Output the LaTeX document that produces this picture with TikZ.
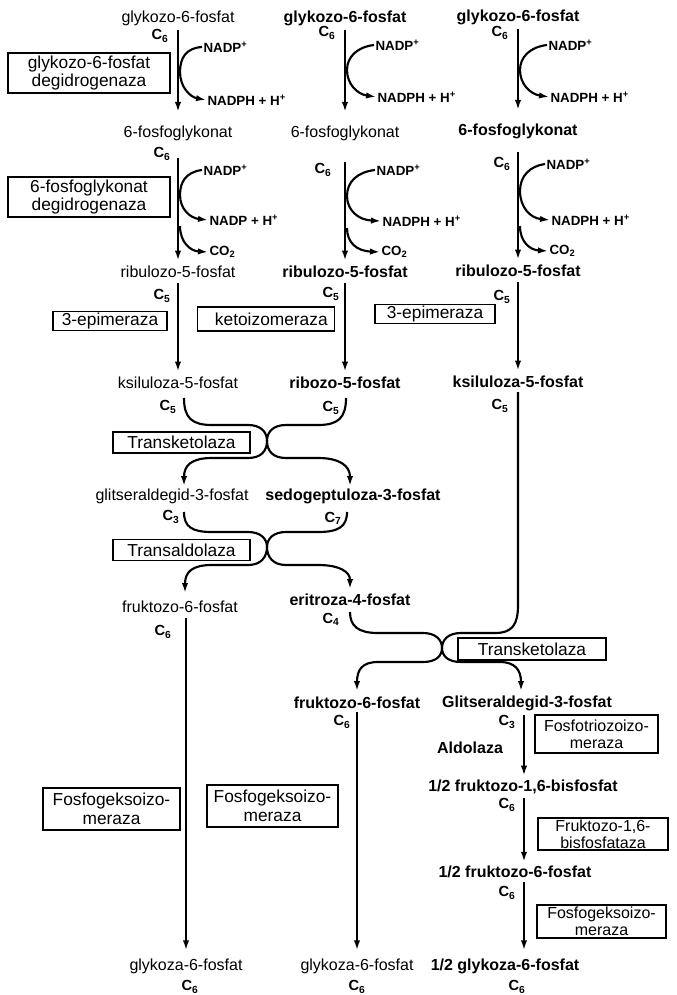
\documentclass[tikz,border=0pt]{standalone}
\usepackage{fontspec}
\setmainfont{Liberation Sans}
\usetikzlibrary{arrows.meta,calc}
\begin{document}
\begin{tikzpicture}[x=0.75pt,y=-0.75pt,
  met/.style={font=\fontsize{12}{14}\selectfont, inner sep=1pt},
  metb/.style={font=\bfseries\fontsize{12}{14}\selectfont, inner sep=1pt},
  enz/.style={draw, line width=0.9pt, font=\fontsize{13}{14}\selectfont, align=center, inner sep=0.5pt},
  enzs/.style={enz, font=\fontsize{12}{12.5}\selectfont},
  cof/.style={font=\bfseries\fontsize{10}{12}\selectfont, anchor=west, inner sep=1pt},
  cc/.style={font=\bfseries\fontsize{11}{12}\selectfont, inner sep=0.5pt},
  arr/.style={line width=1.6pt, -{Latex[length=7.5pt,width=4.8pt]}},
  ln/.style={line width=1.6pt},
]
\useasboundingbox (0,0) rectangle (676,995);

% column reference coordinates
\coordinate (c1x) at (186,0);
\coordinate (c3x) at (524,0);

% ---------- metabolites ----------
\node[met]  (g1) at (178,18) {glykozo-6-fosfat};
\node[metb] (g2) at (345,18) {glykozo-6-fosfat};
\node[metb] (g3) at (518,17) {glykozo-6-fosfat};
\node[met]  (p1) at (178,133) {6-fosfoglykonat};
\node[met]  (p2) at (345,133) {6-fosfoglykonat};
\node[metb] (p3) at (518,131) {6-fosfoglykonat};
\node[met]  (r1) at (178,272) {ribulozo-5-fosfat};
\node[metb] (r2) at (345,272) {ribulozo-5-fosfat};
\node[metb] (r3) at (518,271) {ribulozo-5-fosfat};
\node[met]  (k1) at (178,383) {ksiluloza-5-fosfat};
\node[metb] (k2) at (345,383) {ribozo-5-fosfat};
\node[metb] (k3) at (518,382) {ksiluloza-5-fosfat};
\node[met]  (gl1) at (172,496) {glitseraldegid-3-fosfat};
\node[metb] (sd) at (353,496) {sedogeptuloza-3-fosfat};
\node[met]  (fr1) at (180,607) {fruktozo-6-fosfat};
\node[metb] (er) at (350,600) {eritroza-4-fosfat};
\node[metb] (fr2) at (357,703) {fruktozo-6-fosfat};
\node[metb] (gl2) at (527,703) {Glitseraldegid-3-fosfat};
\node[metb] (bf) at (523,787) {1/2 fruktozo-1,6-bisfosfat};
\node[metb] (hf) at (515,872) {1/2 fruktozo-6-fosfat};
\node[metb] (hg) at (505,966) {1/2 glykoza-6-fosfat};
\node[met]  (gk1) at (186,966) {glykoza-6-fosfat};
\node[met]  (gk2) at (357,966) {glykoza-6-fosfat};
\node[metb] (ald) at (470,748) {Aldolaza};

% ---------- carbon labels ----------
\node[cc] (ca1) at (160,36) {C\textsubscript{6}};
\node[cc] (ca2) at (327,33) {C\textsubscript{6}};
\node[cc] (ca3) at (500,33) {C\textsubscript{6}};
\node[cc] (cb1) at (162,154) {C\textsubscript{6}};
\node[cc] (cb2) at (323,170) {C\textsubscript{6}};
\node[cc] (cb3) at (502,164) {C\textsubscript{6}};
\node[cc] (cc1) at (162,296) {C\textsubscript{5}};
\node[cc] (cc2) at (331,294) {C\textsubscript{5}};
\node[cc] (cc3) at (502,297) {C\textsubscript{5}};
\node[cc] (cd1) at (168,407) {C\textsubscript{5}};
\node[cc] (cd2) at (331,408) {C\textsubscript{5}};
\node[cc] (cd3) at (500,406) {C\textsubscript{5}};
\node[cc] (ce1) at (171,517) {C\textsubscript{3}};
\node[cc] (ce2) at (333,518) {C\textsubscript{7}};
\node[cc] (cf2) at (331,619) {C\textsubscript{4}};
\node[cc] (cf1) at (163,632) {C\textsubscript{6}};
\node[cc] (cg2) at (342,722) {C\textsubscript{6}};
\node[cc] (cg3) at (507,722) {C\textsubscript{3}};
\node[cc] (ch3) at (507,805) {C\textsubscript{6}};
\node[cc] (ci3) at (507,893) {C\textsubscript{6}};
\node[cc] (cj1) at (190,987) {C\textsubscript{6}};
\node[cc] (cj2) at (357,987) {C\textsubscript{6}};
\node[cc] (cj3) at (517,987) {C\textsubscript{6}};

% ---------- cofactors ----------
\node[cof] (na1) at (202,47) {NADP\textsuperscript{+}};
\node[cof] (nh1) at (206,100) {NADPH + H\textsuperscript{+}};
\node[cof] (na2) at (374,45) {NADP\textsuperscript{+}};
\node[cof] (nh2) at (376,97) {NADPH + H\textsuperscript{+}};
\node[cof] (na3) at (547,45) {NADP\textsuperscript{+}};
\node[cof] (nh3) at (549,97) {NADPH + H\textsuperscript{+}};
\node[cof] (na4) at (202,170) {NADP\textsuperscript{+}};
\node[cof] (nh4) at (208,220) {NADP + H\textsuperscript{+}};
\node[cof] (co1) at (208,252) {CO\textsubscript{2}};
\node[cof] (na5) at (375,170) {NADP\textsuperscript{+}};
\node[cof] (nh5) at (381,221) {NADPH + H\textsuperscript{+}};
\node[cof] (co2) at (380,252) {CO\textsubscript{2}};
\node[cof] (na6) at (545,164) {NADP\textsuperscript{+}};
\node[cof] (nh6) at (550,220) {NADPH + H\textsuperscript{+}};
\node[cof] (co3) at (548,251) {CO\textsubscript{2}};

% ---------- enzymes ----------
\node[enz, minimum width=121.5pt, minimum height=30pt] (e1) at (89,73) {glykozo-6-fosfat\\degidrogenaza};
\node[enz, minimum width=121.5pt, minimum height=30pt] (e2) at (89,197) {6-fosfoglykonat\\degidrogenaza};
\node[enz, minimum width=85.5pt, minimum height=14pt] (e3) at (110,321) {3-epimeraza};
\node[enz, minimum width=102.75pt, minimum height=18pt] (e4) at (266,319) {\hspace*{8pt}ketoizomeraza};
\node[enz, minimum width=90pt, minimum height=14pt] (e5) at (435,314) {3-epimeraza};
\node[enz, minimum width=102.75pt, minimum height=15.75pt] (e6) at (181.5,442.5) {Transketolaza};
\node[enz, minimum width=102.75pt, minimum height=16pt] (e7) at (181.5,550) {Transaldolaza};
\node[enz, minimum width=111pt, minimum height=16.5pt] (e8) at (532,649) {Transketolaza};
\node[enz, minimum width=102.75pt, minimum height=31.5pt] (e9) at (111.5,809) {Fosfogeksoizo-\\meraza};
\node[enz, minimum width=98.25pt, minimum height=31.5pt] (e10) at (272.5,806) {Fosfogeksoizo-\\meraza};
\node[enzs, minimum width=92.25pt, minimum height=28.5pt] (e11) at (596.5,734) {Fosfotriozoizo-\\meraza};
\node[enzs, minimum width=97.5pt, minimum height=24pt] (e12) at (603,834) {Fruktozo-1,6-\\bisfosfataza};
\node[enzs, minimum width=96.75pt, minimum height=24.75pt] (e13) at (601.5,921.5) {Fosfogeksoizo-\\meraza};

% ---------- main vertical arrows ----------
\foreach \a/\b in {g1/p1,g2/p2,g3/p3}
  \draw[arr, shorten <=2pt, shorten >=9pt] (\a.south) -- (\b.north);
\draw[arr, shorten <=12pt, shorten >=3pt] (p1.south) -- (r1.north);
\draw[arr, shorten <=15pt, shorten >=3pt] (p2.south) -- (r2.north);
\draw[arr, shorten <=9pt, shorten >=3pt] (p3.south) -- (r3.north);
\foreach \a/\b in {r1/k1,r2/k2}
  \draw[arr, shorten <=3pt, shorten >=3pt] (\a.south) -- (\b.north);
\draw[arr, shorten <=3pt, shorten >=3pt] (r3.south) -- (k3.north);

% ---------- cofactor curves ----------
\draw[arr] (na1.west) .. controls (186,48) and (180,58) .. (180,72) .. controls (180,87) and (190,97) .. (nh1.west);
\draw[arr] (na2.west) .. controls (357,47) and (347,57) .. (347,70) .. controls (347,84) and (357,94) .. (nh2.west);
\draw[arr] (na3.west) .. controls (530,47) and (520,57) .. (520,70) .. controls (520,84) and (530,94) .. (nh3.west);
\draw[arr] (na4.west) .. controls (186,172) and (180,182) .. (180,195) .. controls (180,209) and (190,218) .. (nh4.west);
\coordinate (s4) at (180,226);
\draw[arr] (s4) .. controls (180,242) and (190,251) .. (co1.west);
\draw[arr] (na5.west) .. controls (357,172) and (347,182) .. (347,196) .. controls (347,210) and (358,220) .. (nh5.west);
\coordinate (s5) at (347,228);
\draw[arr] (s5) .. controls (347,243) and (357,251) .. (co2.west);
\draw[arr] (na6.west) .. controls (530,166) and (520,176) .. (520,191) .. controls (520,207) and (530,218) .. (nh6.west);
\coordinate (s6) at (520,226);
\draw[arr] (s6) .. controls (520,242) and (530,250) .. (co3.west);

% ---------- transketolaza (1) ----------
\coordinate (x1) at (267,441);
\coordinate (a1) at (184,398);
\coordinate (b1) at (346,398);
\coordinate (t1) at (184,486);
\coordinate (t2) at (350,486);
\draw[arr] (a1) .. controls (184,418) and (192,425) .. (212,425) -- (248,425)
  .. controls (261,425) and (267,432) .. (x1) .. controls (267,451) and (261,458) .. (248,458)
  -- (212,458) .. controls (192,458) and (184,465) .. (t1);
\draw[arr] (b1) .. controls (346,418) and (338,425) .. (318,425) -- (286,425)
  .. controls (273,425) and (267,432) .. (x1) .. controls (267,451) and (273,458) .. (286,458)
  -- (318,458) .. controls (340,458) and (350,466) .. (t2);

% ---------- transaldolaza ----------
\coordinate (x2) at (267,547);
\coordinate (a2) at (184,512);
\coordinate (b2) at (347,512);
\coordinate (t3) at (185,593);
\coordinate (t4) at (350,589);
\draw[arr] (a2) .. controls (184,527) and (192,532) .. (212,532) -- (248,532)
  .. controls (261,532) and (267,539) .. (x2) .. controls (267,557) and (261,565) .. (248,565)
  -- (212,565) .. controls (192,565) and (185,572) .. (t3);
\draw[arr] (b2) .. controls (347,527) and (338,532) .. (318,532) -- (286,532)
  .. controls (273,532) and (267,539) .. (x2) .. controls (267,557) and (273,565) .. (286,565)
  -- (318,565) .. controls (340,565) and (350,572) .. (t4);

% ---------- transketolaza (2) ----------
\coordinate (x3) at (442,648);
\coordinate (a3) at (350,612);
\coordinate (v3) at (518,605);
\coordinate (t5) at (357,691);
\coordinate (t6) at (521,691);
\draw[arr] (a3) .. controls (350,626) and (358,633) .. (378,633) -- (423,633)
  .. controls (436,633) and (442,640) .. (x3) .. controls (442,656) and (436,662) .. (423,662)
  -- (378,662) .. controls (362,662) and (357,670) .. (t5);
\draw[arr, shorten <=2pt] (k3.south) -- (v3) .. controls (518,625) and (512,633) .. (495,633) -- (461,633)
  .. controls (448,633) and (442,640) .. (x3) .. controls (442,656) and (448,662) .. (461,662)
  -- (500,662) .. controls (515,662) and (521,670) .. (t6);

% ---------- lower arrows ----------
\draw[arr, shorten <=3pt, shorten >=5pt] (fr1.south -| c1x) -- (gk1.north -| c1x);
\draw[arr, shorten <=1pt, shorten >=5pt] (fr2.south) -- (gk2.north);
\draw[arr, shorten <=2pt, shorten >=2pt] (gl2.south -| c3x) -- (bf.north -| c3x);
\draw[arr, shorten <=2pt, shorten >=2pt] (bf.south -| c3x) -- (hf.north -| c3x);
\draw[arr, shorten <=2pt, shorten >=5pt] (hf.south -| c3x) -- (hg.north -| c3x);
\end{tikzpicture}
\end{document}
